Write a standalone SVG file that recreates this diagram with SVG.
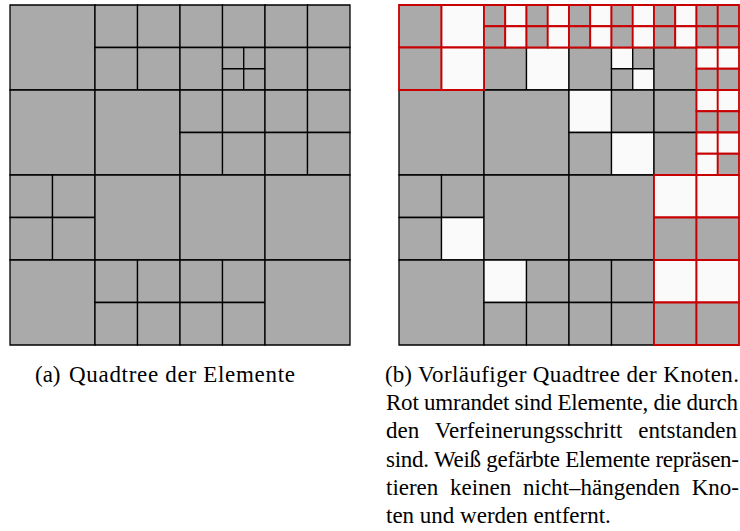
<svg xmlns="http://www.w3.org/2000/svg" width="740" height="531" viewBox="0 0 740 531">
<style>
rect{vector-effect:non-scaling-stroke;stroke-linejoin:miter}
.g{fill:#aaaaaa;stroke:#000;stroke-width:1.3}
.w{fill:#fafafa;stroke:#000;stroke-width:1.3}
.gr{fill:#aaaaaa;stroke:#c80000;stroke-width:1.8}
.wr{fill:#fafafa;stroke:#c80000;stroke-width:1.8}
text{font-family:"Liberation Serif","Times New Roman",serif;font-size:23px;fill:#000}
</style>
<rect x="0" y="0" width="740" height="531" fill="#fff" style="stroke:none"/>
<g id="quadtree-elements" transform="translate(10,5) scale(42.5)">
<rect class="g" x="0" y="0" width="2" height="2"/>
<rect class="g" x="2" y="0" width="1" height="1"/>
<rect class="g" x="3" y="0" width="1" height="1"/>
<rect class="g" x="2" y="1" width="1" height="1"/>
<rect class="g" x="3" y="1" width="1" height="1"/>
<rect class="g" x="4" y="0" width="1" height="1"/>
<rect class="g" x="5" y="0" width="1" height="1"/>
<rect class="g" x="4" y="1" width="1" height="1"/>
<rect class="g" x="5" y="1" width="0.5" height="0.5"/>
<rect class="g" x="5.5" y="1" width="0.5" height="0.5"/>
<rect class="g" x="5" y="1.5" width="0.5" height="0.5"/>
<rect class="g" x="5.5" y="1.5" width="0.5" height="0.5"/>
<rect class="g" x="6" y="0" width="1" height="1"/>
<rect class="g" x="7" y="0" width="1" height="1"/>
<rect class="g" x="6" y="1" width="1" height="1"/>
<rect class="g" x="7" y="1" width="1" height="1"/>
<rect class="g" x="0" y="2" width="2" height="2"/>
<rect class="g" x="2" y="2" width="2" height="2"/>
<rect class="g" x="4" y="2" width="1" height="1"/>
<rect class="g" x="5" y="2" width="1" height="1"/>
<rect class="g" x="4" y="3" width="1" height="1"/>
<rect class="g" x="5" y="3" width="1" height="1"/>
<rect class="g" x="6" y="2" width="1" height="1"/>
<rect class="g" x="7" y="2" width="1" height="1"/>
<rect class="g" x="6" y="3" width="1" height="1"/>
<rect class="g" x="7" y="3" width="1" height="1"/>
<rect class="g" x="0" y="4" width="1" height="1"/>
<rect class="g" x="1" y="4" width="1" height="1"/>
<rect class="g" x="0" y="5" width="1" height="1"/>
<rect class="g" x="1" y="5" width="1" height="1"/>
<rect class="g" x="2" y="4" width="2" height="2"/>
<rect class="g" x="4" y="4" width="2" height="2"/>
<rect class="g" x="6" y="4" width="2" height="2"/>
<rect class="g" x="0" y="6" width="2" height="2"/>
<rect class="g" x="2" y="6" width="1" height="1"/>
<rect class="g" x="3" y="6" width="1" height="1"/>
<rect class="g" x="2" y="7" width="1" height="1"/>
<rect class="g" x="3" y="7" width="1" height="1"/>
<rect class="g" x="4" y="6" width="1" height="1"/>
<rect class="g" x="5" y="6" width="1" height="1"/>
<rect class="g" x="4" y="7" width="1" height="1"/>
<rect class="g" x="5" y="7" width="1" height="1"/>
<rect class="g" x="6" y="6" width="2" height="2"/>
</g>
<g id="quadtree-nodes" transform="translate(399,5) scale(42.5)">
<rect class="g" x="0" y="2" width="2" height="2"/>
<rect class="g" x="2" y="1" width="1" height="1"/>
<rect class="w" x="3" y="1" width="1" height="1"/>
<rect class="g" x="4" y="1" width="1" height="1"/>
<rect class="w" x="5" y="1" width="0.5" height="0.5"/>
<rect class="g" x="5.5" y="1" width="0.5" height="0.5"/>
<rect class="g" x="5" y="1.5" width="0.5" height="0.5"/>
<rect class="w" x="5.5" y="1.5" width="0.5" height="0.5"/>
<rect class="g" x="6" y="1" width="1" height="1"/>
<rect class="g" x="2" y="2" width="2" height="2"/>
<rect class="w" x="4" y="2" width="1" height="1"/>
<rect class="g" x="5" y="2" width="1" height="1"/>
<rect class="g" x="6" y="2" width="1" height="1"/>
<rect class="g" x="4" y="3" width="1" height="1"/>
<rect class="w" x="5" y="3" width="1" height="1"/>
<rect class="g" x="6" y="3" width="1" height="1"/>
<rect class="g" x="0" y="4" width="1" height="1"/>
<rect class="g" x="1" y="4" width="1" height="1"/>
<rect class="g" x="0" y="5" width="1" height="1"/>
<rect class="w" x="1" y="5" width="1" height="1"/>
<rect class="g" x="2" y="4" width="2" height="2"/>
<rect class="g" x="4" y="4" width="2" height="2"/>
<rect class="g" x="0" y="6" width="2" height="2"/>
<rect class="w" x="2" y="6" width="1" height="1"/>
<rect class="g" x="3" y="6" width="1" height="1"/>
<rect class="g" x="4" y="6" width="1" height="1"/>
<rect class="g" x="5" y="6" width="1" height="1"/>
<rect class="g" x="2" y="7" width="1" height="1"/>
<rect class="g" x="3" y="7" width="1" height="1"/>
<rect class="g" x="4" y="7" width="1" height="1"/>
<rect class="g" x="5" y="7" width="1" height="1"/>
<g id="refined">
<rect class="gr" x="0" y="0" width="1" height="1"/>
<rect class="wr" x="1" y="0" width="1" height="1"/>
<rect class="gr" x="0" y="1" width="1" height="1"/>
<rect class="wr" x="1" y="1" width="1" height="1"/>
<rect class="gr" x="2" y="0" width="0.5" height="0.5"/><rect class="wr" x="2.5" y="0" width="0.5" height="0.5"/>
<rect class="gr" x="2" y="0.5" width="0.5" height="0.5"/><rect class="wr" x="2.5" y="0.5" width="0.5" height="0.5"/>
<rect class="gr" x="3" y="0" width="0.5" height="0.5"/><rect class="wr" x="3.5" y="0" width="0.5" height="0.5"/>
<rect class="gr" x="3" y="0.5" width="0.5" height="0.5"/><rect class="wr" x="3.5" y="0.5" width="0.5" height="0.5"/>
<rect class="gr" x="4" y="0" width="0.5" height="0.5"/><rect class="wr" x="4.5" y="0" width="0.5" height="0.5"/>
<rect class="gr" x="4" y="0.5" width="0.5" height="0.5"/><rect class="wr" x="4.5" y="0.5" width="0.5" height="0.5"/>
<rect class="gr" x="5" y="0" width="0.5" height="0.5"/><rect class="wr" x="5.5" y="0" width="0.5" height="0.5"/>
<rect class="gr" x="5" y="0.5" width="0.5" height="0.5"/><rect class="wr" x="5.5" y="0.5" width="0.5" height="0.5"/>
<rect class="gr" x="6" y="0" width="0.5" height="0.5"/><rect class="wr" x="6.5" y="0" width="0.5" height="0.5"/>
<rect class="gr" x="6" y="0.5" width="0.5" height="0.5"/><rect class="wr" x="6.5" y="0.5" width="0.5" height="0.5"/>
<rect class="gr" x="7" y="0" width="0.5" height="0.5"/><rect class="gr" x="7.5" y="0" width="0.5" height="0.5"/>
<rect class="gr" x="7" y="0.5" width="0.5" height="0.5"/><rect class="gr" x="7.5" y="0.5" width="0.5" height="0.5"/>
<rect class="wr" x="7" y="1" width="0.5" height="0.5"/><rect class="wr" x="7.5" y="1" width="0.5" height="0.5"/>
<rect class="gr" x="7" y="1.5" width="0.5" height="0.5"/><rect class="gr" x="7.5" y="1.5" width="0.5" height="0.5"/>
<rect class="wr" x="7" y="2" width="0.5" height="0.5"/><rect class="wr" x="7.5" y="2" width="0.5" height="0.5"/>
<rect class="gr" x="7" y="2.5" width="0.5" height="0.5"/><rect class="gr" x="7.5" y="2.5" width="0.5" height="0.5"/>
<rect class="wr" x="7" y="3" width="0.5" height="0.5"/><rect class="wr" x="7.5" y="3" width="0.5" height="0.5"/>
<rect class="wr" x="7" y="3.5" width="0.5" height="0.5"/><rect class="gr" x="7.5" y="3.5" width="0.5" height="0.5"/>
<rect class="wr" x="6" y="4" width="1" height="1"/>
<rect class="wr" x="7" y="4" width="1" height="1"/>
<rect class="gr" x="6" y="5" width="1" height="1"/>
<rect class="gr" x="7" y="5" width="1" height="1"/>
<rect class="wr" x="6" y="6" width="1" height="1"/>
<rect class="wr" x="7" y="6" width="1" height="1"/>
<rect class="gr" x="6" y="7" width="1" height="1"/>
<rect class="gr" x="7" y="7" width="1" height="1"/>
</g>
</g>
<g id="caption-a">
<text x="35" y="382">(a)</text>
<text x="69" y="382" textLength="226" lengthAdjust="spacing">Quadtree der Elemente</text>
</g>
<g id="caption-b">
<text x="385" y="382">(b)</text>
<text x="418" y="382" textLength="321" lengthAdjust="spacing">Vorläufiger Quadtree der Knoten.</text>
<text x="386" y="410.2" textLength="352" lengthAdjust="spacing">Rot umrandet sind Elemente, die durch</text>
<text x="386" y="438.4" textLength="351" lengthAdjust="spacing" style="word-spacing:10px">den Verfeinerungsschritt entstanden</text>
<text x="386" y="466.6" textLength="353" lengthAdjust="spacing">sind. Weiß gefärbte Elemente repräsen-</text>
<text x="386" y="494.8" textLength="353" lengthAdjust="spacing" style="word-spacing:6px">tieren keinen nicht–hängenden Kno-</text>
<text x="386" y="523">ten und werden entfernt.</text>
</g>
</svg>
